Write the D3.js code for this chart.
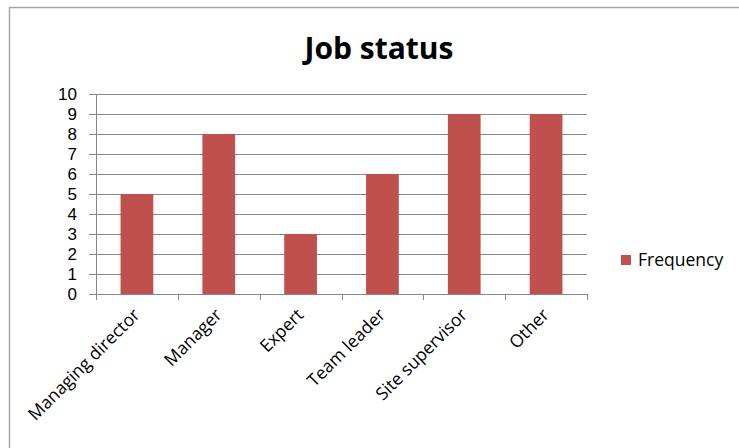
<!DOCTYPE html>
<html>
<head>
<meta charset="utf-8">
<script src="https://cdn.jsdelivr.net/npm/d3@7"></script>
<style>
  body { margin: 0; background: #fff; }
  svg { display: block; font-family: "Open Sans", Lato, sans-serif; }
</style>
</head>
<body>
<div class="chart"></div>
<script>
// chart values
var categories = ["Managing director", "Manager", "Expert", "Team leader", "Site supervisor", "Other"];
var frequency = [5, 8, 3, 6, 9, 9];
var yTicks = [0, 1, 2, 3, 4, 5, 6, 7, 8, 9, 10];
var seriesName = "Frequency";
var chartTitle = "Job status";

var svgWidth = 739;
var svgHeight = 448;
var margin = {top: 94, right: 152, bottom: 154, left: 96};
var width = svgWidth - margin.left - margin.right;
var height = svgHeight - margin.top - margin.bottom;

var svg = d3.select(".chart")
  .append("svg")
  .attr("width", svgWidth)
  .attr("height", svgHeight);

// outer frame (only top and left edges are visible)
svg.append("path")
  .attr("d", "M9.5,448 V7.5 H739")
  .attr("fill", "none")
  .attr("stroke", "#a6a6a6")
  .attr("stroke-width", 1.5);

svg.append("text")
  .attr("x", 379)
  .attr("y", 59)
  .attr("text-anchor", "middle")
  .style("font-size", "30px")
  .style("font-weight", "bold")
  .attr("fill", "#000")
  .text(chartTitle);

var chart = svg.append("g")
  .attr("transform", "translate(" + margin.left + "," + margin.top + ")");

var x = d3.scaleBand().domain(categories).range([0, width]).paddingInner(0.6).paddingOuter(0.3);
var y = d3.scaleLinear().domain([0, 10]).range([height, 0]);

// gridlines
chart.selectAll(".grid")
  .data(yTicks)
  .enter()
  .append("line")
  .attr("x1", -7)
  .attr("x2", width)
  .attr("y1", function(d) { return Math.round(y(d)) + 0.5; })
  .attr("y2", function(d) { return Math.round(y(d)) + 0.5; })
  .attr("stroke", "#878787")
  .attr("stroke-width", 1);

// y axis line
chart.append("line")
  .attr("x1", 0.5).attr("x2", 0.5)
  .attr("y1", 0).attr("y2", height)
  .attr("stroke", "#878787");

// y tick labels (tighter font so the 20px rows don't collide)
chart.selectAll(".ylab")
  .data(yTicks)
  .enter()
  .append("text")
  .attr("x", -19)
  .attr("y", function(d) { return y(d); })
  .attr("dy", "0.36em")
  .attr("text-anchor", "end")
  .style("font-family", "'Liberation Sans', sans-serif")
  .style("font-size", "17px")
  .attr("fill", "#000")
  .text(function(d) { return d; });

// bars
chart.selectAll("rect")
  .data(frequency)
  .enter()
  .append("rect")
  .attr("x", function(d, i) { return x(categories[i]); })
  .attr("y", function(d) { return y(d); })
  .attr("width", x.bandwidth())
  .attr("height", function(d) { return height - y(d); })
  .attr("fill", "#c0504d");

// x axis line + category boundary ticks
var step = width / categories.length;
chart.append("line")
  .attr("x1", 0).attr("x2", width)
  .attr("y1", height + 0.5).attr("y2", height + 0.5)
  .attr("stroke", "#878787");
chart.selectAll(".xtick")
  .data(d3.range(categories.length + 1))
  .enter()
  .append("line")
  .attr("x1", function(d) { return Math.round(d * step) + 0.5; })
  .attr("x2", function(d) { return Math.round(d * step) + 0.5; })
  .attr("y1", height)
  .attr("y2", height + 6)
  .attr("stroke", "#878787");

// rotated category labels
chart.selectAll(".xlab")
  .data(categories)
  .enter()
  .append("text")
  .attr("transform", function(d) {
    var cx = x(d) + x.bandwidth() / 2 + 4;
    return "translate(" + cx + "," + (height + 22) + ") rotate(-45)";
  })
  .attr("text-anchor", "end")
  .style("font-size", "17.5px")
  .attr("fill", "#000")
  .text(function(d) { return d; });

// legend
var legend = svg.append("g").attr("transform", "translate(621,255)");
legend.append("rect")
  .attr("width", 10)
  .attr("height", 10)
  .attr("fill", "#c0504d");
legend.append("text")
  .attr("x", 17)
  .attr("y", 5)
  .attr("dy", "0.36em")
  .style("font-size", "17.5px")
  .attr("fill", "#000")
  .text(seriesName);
</script>
</body>
</html>
